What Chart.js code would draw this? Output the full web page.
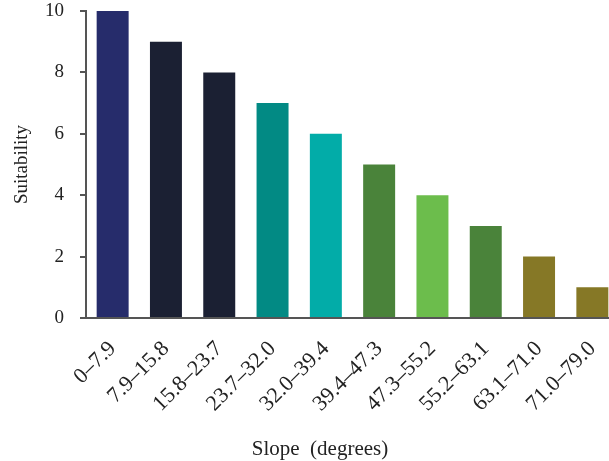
<!DOCTYPE html>
<html>
<head>
<meta charset="utf-8">
<script src="https://cdn.jsdelivr.net/npm/chart.js@4"></script>
<style>
  html, body { margin: 0; padding: 0; background: #fff; overflow: hidden; }
  #wrap { width: 619px; height: 461px; position: relative; }
</style>
</head>
<body>
<div id="wrap"><canvas id="graficoSlope"></canvas></div>
<script>
const categorias = ['0–7.9', '7.9–15.8', '15.8–23.7', '23.7–32.0', '32.0–39.4',
  '39.4–47.3', '47.3–55.2', '55.2–63.1', '63.1–71.0', '71.0–79.0'];
const suitability = [10, 9, 8, 7, 6, 5, 4, 3, 2, 1];
const cores = ['#262c6b', '#1b2033', '#1b2033', '#028a84', '#02aca8',
  '#4a833a', '#6cbd4c', '#4a833a', '#867826', '#867826'];
const yTicks = [0, 2, 4, 6, 8, 10];

const fonte = { family: 'Liberation Serif', size: 19 };

// titulo do eixo x desenhado a mao (fica um pouco a esquerda do centro)
const tituloX = {
  id: 'tituloX',
  afterDraw(chart) {
    const c = chart.ctx;
    c.save();
    c.font = '21px "Liberation Serif"';
    c.fillStyle = '#222';
    c.textAlign = 'center';
    c.textBaseline = 'middle';
    c.fillText('Slope  (degrees)', 320, 449);
    c.restore();
  }
};

new Chart(document.getElementById('graficoSlope'), {
  type: 'bar',
  data: {
    labels: categorias,
    datasets: [{
      label: 'Suitability',
      data: suitability,
      backgroundColor: cores,
      barPercentage: 0.6,
      categoryPercentage: 1
    }]
  },
  options: {
    responsive: true,
    maintainAspectRatio: false,
    animation: false,
    layout: { padding: { top: 11, right: 0, bottom: 0, left: 0 } },
    plugins: {
      legend: { display: false },
      tooltip: { enabled: false }
    },
    scales: {
      x: {
        grid: { display: false },
        border: { display: true, color: '#555', width: 2 },
        ticks: {
          color: '#222',
          font: { family: 'Liberation Serif', size: 22 },
          minRotation: 45,
          maxRotation: 45,
          padding: 10,
          autoSkip: false
        },
        afterFit(scale) {
          scale.height = 143;
          scale.paddingLeft = 0;
          scale.paddingRight = 0;
        }
      },
      y: {
        min: 0,
        max: 10,
        afterBuildTicks(scale) { scale.ticks = yTicks.map(v => ({ value: v })); },
        grid: { drawOnChartArea: false, drawTicks: true, tickLength: 6, color: '#555', lineWidth: 2 },
        border: { display: true, color: '#555', width: 2 },
        ticks: { color: '#222', font: fonte, padding: 16 },
        title: {
          display: true,
          text: 'Suitability',
          color: '#222',
          font: fonte,
          padding: { top: 11, bottom: 0 }
        },
        afterFit(scale) {
          scale.width = 86;
          scale.paddingTop = 0;
          scale.paddingBottom = 0;
        }
      }
    }
  },
  plugins: [tituloX]
});
</script>
</body>
</html>
